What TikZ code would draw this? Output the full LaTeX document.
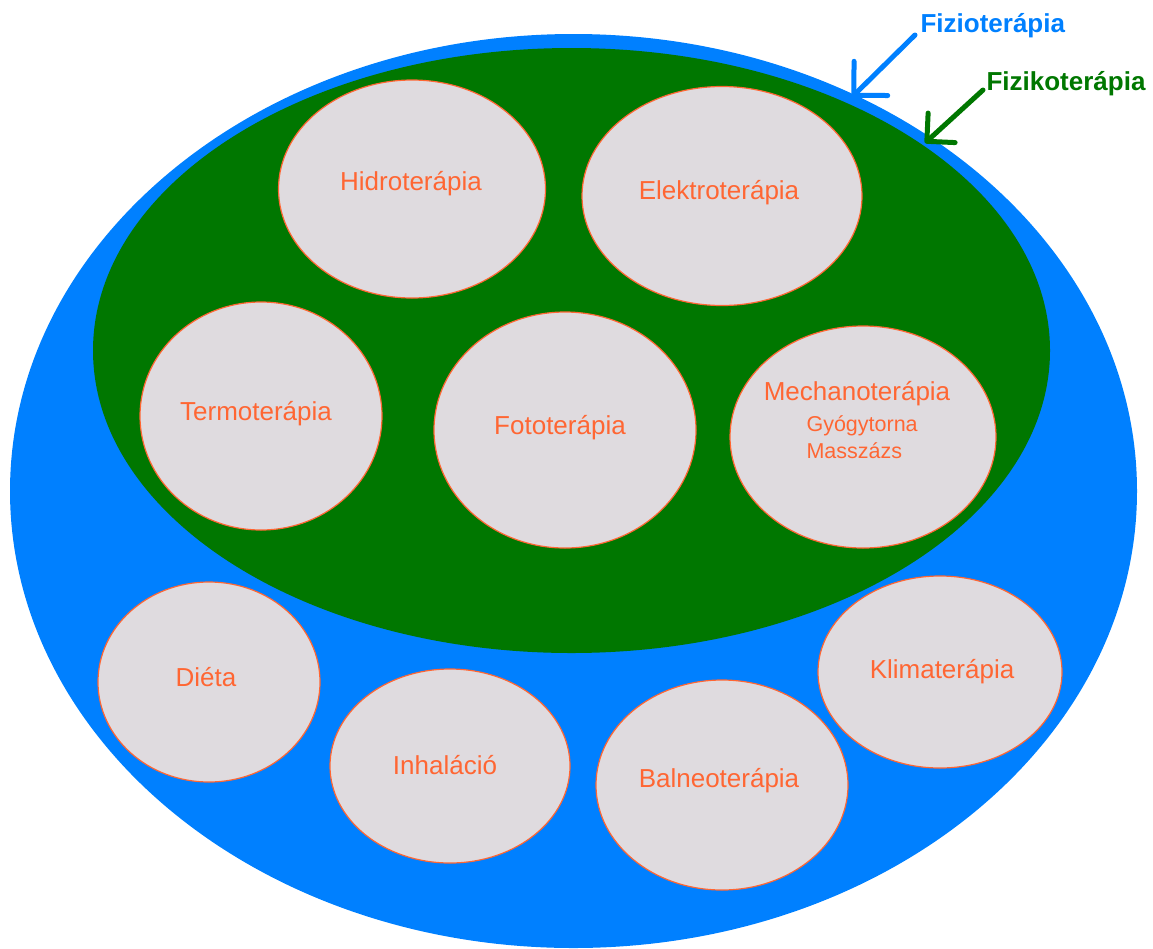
\documentclass[tikz,border=0pt]{standalone}
\usepackage{fontspec}
\setmainfont{Liberation Sans}
\usepackage{tikz}
\usetikzlibrary{shapes.geometric,arrows.meta}
\definecolor{fiziokek}{RGB}{0,128,255}
\definecolor{fizikozold}{RGB}{0,119,0}
\definecolor{cellafill}{RGB}{223,219,223}
\definecolor{cellapiros}{RGB}{255,102,51}

\begin{document}
\begin{tikzpicture}[x=1pt,y=-1pt,
    cella/.style={ellipse,draw=cellapiros,line width=1.2pt,fill=cellafill,inner sep=0pt},
    felirat/.style={text=cellapiros,anchor=base,font=\fontsize{26}{30}\selectfont},
    kisfelirat/.style={text=cellapiros,anchor=base west,font=\fontsize{21.5}{26}\selectfont},
    cimke/.style={anchor=base west,font=\bfseries\fontsize{26}{30}\selectfont},
    nyil/.style={line width=5pt,line cap=round}]

\useasboundingbox (0,0) rectangle (1153,948);

% Fizioterapia (blue) and Fizikoterapia (green)
\fill[fiziokek] (573.5,491) ellipse[x radius=563.5pt,y radius=457pt];
\fill[fizikozold] (571.5,350.5) ellipse[x radius=478.5pt,y radius=302.5pt];

\begin{scope}
    \node[cella,minimum width=267pt,minimum height=218pt] (hidro) at (412,189) {};
    \node[felirat] (hidrotxt) at (411,190) {Hidroterápia};
    \node[cella,minimum width=280pt,minimum height=219pt] (elektro) at (722,196) {};
    \node[felirat] (elektrotxt) at (719,199) {Elektroterápia};
    \node[cella,minimum width=242pt,minimum height=228pt] (termo) at (261,416) {};
    \node[felirat] (termotxt) at (256,420) {Termoterápia};
    \node[cella,minimum width=262pt,minimum height=236pt] (foto) at (565,430) {};
    \node[felirat] (fototxt) at (560,434) {Fototerápia};
    \node[cella,minimum width=266pt,minimum height=222pt] (mechano) at (863,437) {};
    \node[felirat] (mechanotxt) at (857,400) {Mechanoterápia};
    \node[kisfelirat] (gyogytorna) at (803,431) {Gyógytorna};
    \node[kisfelirat] (masszazs) at (803,458) {Masszázs};
\end{scope}

% outside the green field
\begin{scope}
    \node[cella,minimum width=222pt,minimum height=200pt] (dieta) at (209,682) {};
    \node[felirat] (dietatxt) at (206,686) {Diéta};
    \node[cella,minimum width=240pt,minimum height=194pt] (inhalacio) at (450,766) {};
    \node[felirat] (inhalaciotxt) at (445,774) {Inhaláció};
    \node[cella,minimum width=252pt,minimum height=210pt] (balneo) at (722,785) {};
    \node[felirat] (balneotxt) at (719,787) {Balneoterápia};
    \node[cella,minimum width=244pt,minimum height=192pt] (klima) at (940,672) {};
    \node[felirat] (klimatxt) at (942,678) {Klimaterápia};
\end{scope}

% labels with arrows
\node[cimke,text=fiziokek] (fizio) at (917,32) {Fizioterápia};
\node[cimke,text=fizikozold] (fiziko) at (983,90) {Fizikoterápia};
\coordinate (fiziohegy) at (852,97);
\coordinate (fizikohegy) at (925,143);
\draw[nyil,fiziokek,-{Straight Barb[length=24pt,width=48pt,round]}] ([xshift=-2pt,yshift=-3pt]fizio.base west) -- (fiziohegy);
\draw[nyil,fizikozold,-{Straight Barb[length=20pt,width=40pt,round]}] (fiziko.base west) -- (fizikohegy);
\end{tikzpicture}
\end{document}
